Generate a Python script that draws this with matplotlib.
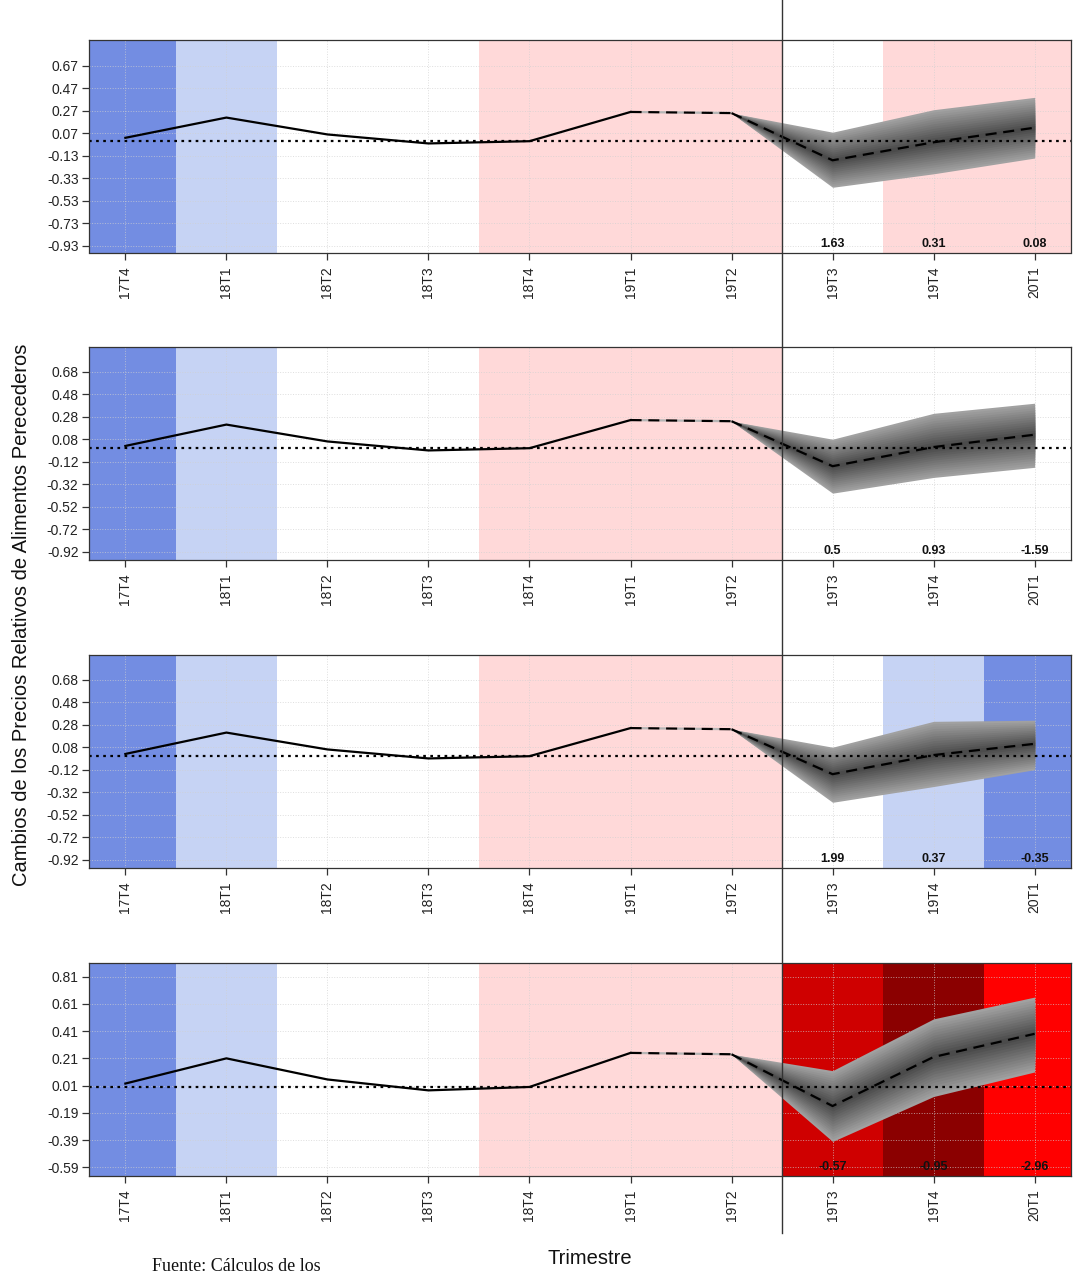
import matplotlib
matplotlib.use('Agg')
import matplotlib.pyplot as plt
import numpy as np
from matplotlib.lines import Line2D

# ── Data ──────────────────────────────────────────────────────────────────────
QUARTERS = ['17T4', '18T1', '18T2', '18T3', '18T4', '19T1', '19T2',
            '19T3', '19T4', '20T1']

# observed values (17T4 .. 19T2)
OBS_1 = [0.03, 0.21, 0.06, -0.02, 0.00, 0.26, 0.25]
OBS_2 = [0.02, 0.21, 0.06, -0.02, 0.00, 0.25, 0.24]
OBS_3 = [0.02, 0.21, 0.06, -0.02, 0.00, 0.25, 0.24]
OBS_4 = [0.025, 0.21, 0.055, -0.025, 0.00, 0.25, 0.24]

# forecast centre / upper / lower (19T3 .. 20T1)
FC_1 = [-0.17, -0.01, 0.12]
UP_1 = [0.08, 0.28, 0.39]
LO_1 = [-0.41, -0.29, -0.15]

FC_2 = [-0.16, 0.01, 0.12]
UP_2 = [0.08, 0.31, 0.40]
LO_2 = [-0.40, -0.26, -0.17]

FC_3 = [-0.16, 0.01, 0.11]
UP_3 = [0.08, 0.31, 0.32]
LO_3 = [-0.41, -0.27, -0.12]

FC_4 = [-0.14, 0.22, 0.39]
UP_4 = [0.12, 0.50, 0.66]
LO_4 = [-0.40, -0.07, 0.11]

# bold numbers printed under the forecast quarters
LAB_1 = ['1.63', '0.31', '0.08']
LAB_2 = ['0.5', '0.93', '-1.59']
LAB_3 = ['1.99', '0.37', '-0.35']
LAB_4 = ['-0.57', '-0.95', '-2.96']

# y ticks per panel
YT_1 = [0.67, 0.47, 0.27, 0.07, -0.13, -0.33, -0.53, -0.73, -0.93]
YT_2 = [0.68, 0.48, 0.28, 0.08, -0.12, -0.32, -0.52, -0.72, -0.92]
YT_3 = [0.68, 0.48, 0.28, 0.08, -0.12, -0.32, -0.52, -0.72, -0.92]
YT_4 = [0.81, 0.61, 0.41, 0.21, 0.01, -0.19, -0.39, -0.59]

# ── Colours ───────────────────────────────────────────────────────────────────
DARK_BLUE  = '#738DE2'
LIGHT_BLUE = '#C6D3F4'
WHITE      = '#FFFFFF'
PINK       = '#FFD9D9'
RED3       = '#CF0000'
RED4       = '#8B0000'
RED        = '#FF0000'
FRAME      = '#333333'

BG_COMMON = [DARK_BLUE, LIGHT_BLUE, WHITE, WHITE, PINK, PINK, PINK]
BG_1 = BG_COMMON + [WHITE, PINK, PINK]
BG_2 = BG_COMMON + [WHITE, WHITE, WHITE]
BG_3 = BG_COMMON + [WHITE, LIGHT_BLUE, DARK_BLUE]
BG_4 = BG_COMMON + [RED3, RED4, RED]

PANELS = [
    (OBS_1, FC_1, UP_1, LO_1, LAB_1, YT_1, BG_1, (-0.99, 0.90)),
    (OBS_2, FC_2, UP_2, LO_2, LAB_2, YT_2, BG_2, (-0.99, 0.90)),
    (OBS_3, FC_3, UP_3, LO_3, LAB_3, YT_3, BG_3, (-0.99, 0.90)),
    (OBS_4, FC_4, UP_4, LO_4, LAB_4, YT_4, BG_4, (-0.65, 0.91)),
]

# ── Layout (pixels) ───────────────────────────────────────────────────────────
W, H = 1073, 1274
LEFT, RIGHT = 89, 1071
TOPS = [40, 347, 655, 963]
AX_H = 212.5
XLIM = (-0.36, 9.36)

plt.rcParams.update({
    'font.family': ['Liberation Sans', 'DejaVu Sans'],
    'axes.linewidth': 0.9,
    'axes.edgecolor': FRAME,
})

fig = plt.figure(figsize=(W / 100, H / 100), dpi=100)


def draw_panel(ax, obs, fc, up, lo, labels, yticks, bg, ylim):
    x = np.arange(len(QUARTERS))
    for i, c in enumerate(bg):
        ax.axvspan(i - 0.5, i + 0.5, color=c, lw=0, zorder=0.1)

    # fan chart: nested bands from lighter (outer) to dark (inner)
    xf = x[len(obs) - 1:]
    cen = np.array([obs[-1]] + fc)
    hi = np.array([obs[-1]] + up)
    low = np.array([obs[-1]] + lo)
    n = 14
    for k in range(n, 0, -1):
        f = k / n
        g = 0.27 + 0.36 * f
        ax.fill_between(xf, cen + f * (low - cen), cen + f * (hi - cen),
                        color=(g, g, g), lw=0, zorder=1.5)

    ax.axhline(0, color='black', lw=1.6, ls=(0, (1.2, 2.0)), zorder=2)
    ax.plot(x[:6], obs[:6], color='black', lw=1.6, zorder=3)
    ax.plot(x[5:7], obs[5:7], color='black', lw=1.6, dashes=(5, 3),
            gapcolor='#b5b5b5', zorder=3)
    ax.plot(xf, cen, color='black', lw=1.6, dashes=(5, 3), zorder=3)

    trans = ax.get_xaxis_transform()
    for i, lab in zip(x[len(obs):], labels):
        ax.text(i, 0.012, lab, transform=trans, ha='center', va='bottom',
                fontsize=9, fontweight='bold', color='#111111', zorder=4)

    ax.set_xlim(*XLIM)
    ax.set_ylim(*ylim)
    ax.set_yticks(yticks)
    ax.set_yticklabels([f'{v:.2f}' for v in yticks])
    ax.set_xticks(x)
    ax.set_xticklabels(QUARTERS, rotation=90)
    ax.tick_params(axis='both', length=5, width=0.9, color=FRAME,
                   labelsize=10, labelcolor='#222222')
    ax.tick_params(axis='x', pad=5)
    ax.tick_params(axis='y', pad=2.5)
    ax.grid(True, color='#d0d0d0', ls=':', lw=0.7, alpha=0.7)
    ax.set_axisbelow(True)


axes = []
for top, p in zip(TOPS, PANELS):
    rect = [LEFT / W, 1 - (top + AX_H) / H, (RIGHT - LEFT) / W, AX_H / H]
    ax = fig.add_axes(rect)
    draw_panel(ax, *p)
    axes.append(ax)

# vertical separator between observed and forecast quarters
xl = LEFT / W + (6.5 - XLIM[0]) / (XLIM[1] - XLIM[0]) * (RIGHT - LEFT) / W
fig.add_artist(Line2D([xl, xl], [1 - 1233 / H, 1.0], transform=fig.transFigure,
                      color=FRAME, lw=1.0))

fig.text(22 / W, 1 - 615 / H,
         'Cambios de los Precios Relativos de Alimentos Perecederos',
         rotation=90, ha='center', va='center', fontsize=14.5, color='#111111')
fig.text(590 / W, 1 - 1259 / H, 'Trimestre', ha='center', va='center',
         fontsize=14.5, color='#111111')
fig.text(152 / W, 1 - 1271 / H, 'Fuente: Cálculos de los',
         family=['Liberation Serif', 'DejaVu Serif'], fontsize=13,
         ha='left', va='baseline', color='#111111')

fig.savefig('out.png', dpi=100, facecolor='white')
